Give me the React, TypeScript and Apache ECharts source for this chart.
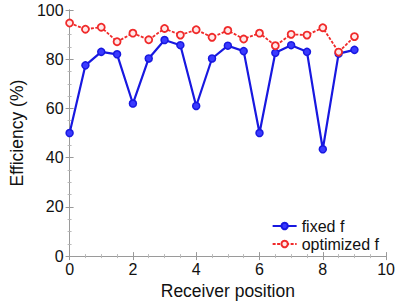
import React, { useEffect, useRef } from "react";
import * as echarts from "echarts";

const positions = [0, 0.5, 1, 1.5, 2, 2.5, 3, 3.5, 4, 4.5, 5, 5.5, 6, 6.5, 7, 7.5, 8, 8.5, 9];
const fixedF = [50, 77.5, 83, 82, 62, 80.3, 87.8, 85.7, 61, 80.3, 85.5, 83.3, 50, 82.6, 85.7, 83, 43.4, 82.3, 83.8];
const optimizedF = [94.7, 92.2, 93, 87.1, 90.6, 87.9, 92.5, 89.8, 92, 88.9, 91.7, 88.2, 90.6, 85.5, 90.1, 89.8, 92.8, 82.9, 89.2];
const seriesNames = ["fixed f", "optimized f"];

const FONT = "Liberation Sans, Arial, sans-serif";

export default function App() {
  const ref = useRef<HTMLDivElement>(null);
  useEffect(() => {
    if (!ref.current) return;
    const chart = echarts.init(ref.current, null, { renderer: "svg" });
    const axisCommon = {
      axisLine: { show: true, lineStyle: { color: "#9a9a9a", width: 1 } },
      axisTick: { show: true, inside: true, length: 4, lineStyle: { color: "#9a9a9a" } },
      minorTick: { show: true, splitNumber: 4, length: 2, lineStyle: { color: "#bbbbbb" } },
      splitLine: { show: false },
    };
    chart.setOption({
      animation: false,
      backgroundColor: "#ffffff",
      grid: { left: 65, right: 8, top: 10, bottom: 46, containLabel: false },
      legend: {
        orient: "vertical",
        right: 14,
        bottom: 48,
        itemWidth: 24,
        itemHeight: 8,
        itemGap: 2,
        textStyle: { fontFamily: FONT, fontSize: 16, color: "#111" },
        data: seriesNames,
      },
      xAxis: [
        {
          type: "value",
          min: 0,
          max: 10,
          interval: 2,
          name: "Receiver position",
          nameLocation: "middle",
          nameGap: 22,
          nameTextStyle: { fontFamily: FONT, fontSize: 17.5, color: "#111" },
          axisLabel: { fontFamily: FONT, fontSize: 16, color: "#111", margin: 5 },
          ...axisCommon,
        },
        {
          type: "value",
          position: "top",
          min: 0,
          max: 10,
          interval: 2,
          axisLabel: { show: false },
          ...axisCommon,
        },
      ],
      yAxis: [
        {
          type: "value",
          min: 0,
          max: 100,
          interval: 20,
          name: "Efficiency (%)",
          nameLocation: "middle",
          nameGap: 28,
          nameTextStyle: { fontFamily: FONT, fontSize: 17.5, color: "#111" },
          axisLabel: { fontFamily: FONT, fontSize: 16, color: "#111", margin: 6 },
          ...axisCommon,
        },
        {
          type: "value",
          position: "right",
          min: 0,
          max: 100,
          interval: 20,
          axisLabel: { show: false },
          ...axisCommon,
        },
      ],
      series: [
        {
          name: seriesNames[0],
          type: "line",
          data: positions.map((p, i) => [p, fixedF[i]]),
          symbol: "circle",
          symbolSize: 7,
          lineStyle: { color: "#1818e0", width: 2.2 },
          itemStyle: { color: "#3a3aff", borderColor: "#1818e0", borderWidth: 1.5 },
          z: 3,
        },
        {
          name: seriesNames[1],
          type: "line",
          data: positions.map((p, i) => [p, optimizedF[i]]),
          symbol: "circle",
          symbolSize: 7,
          lineStyle: { color: "#f02a2a", width: 1.8, type: [3, 1.5] },
          itemStyle: { color: "#ffe8e8", borderColor: "#f02a2a", borderWidth: 1.8 },
          z: 4,
        },
      ],
    });
    return () => chart.dispose();
  }, []);
  return <div ref={ref} style={{ width: 398, height: 305, position: "absolute", left: 0, top: 0 }} />;
}
